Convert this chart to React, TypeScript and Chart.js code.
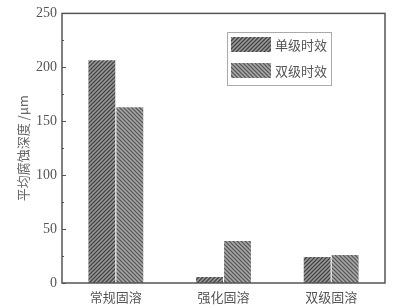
import React, { useEffect, useRef } from "react";
import { Chart, registerables } from "chart.js";

Chart.register(...registerables);

const categories = ["常规固溶", "强化固溶", "双级固溶"];
const seriesNames = ["单级时效", "双级时效"];
const singleAging = [206.5, 5.5, 24];
const doubleAging = [163, 39, 26];
const yTicks = [0, 50, 100, 150, 200, 250];
const yTitle = "平均腐蚀深度 /μm";

function makePattern(dir: number, bg: string, fg: string): CanvasPattern | string {
  const s = 4;
  const c = document.createElement("canvas");
  c.width = s;
  c.height = s;
  const ctx = c.getContext("2d");
  if (!ctx) return bg;
  ctx.fillStyle = bg;
  ctx.fillRect(0, 0, s, s);
  ctx.strokeStyle = fg;
  ctx.lineWidth = 1.3;
  ctx.beginPath();
  if (dir > 0) {
    ctx.moveTo(-1, s + 1);
    ctx.lineTo(s + 1, -1);
    ctx.moveTo(-1, 1);
    ctx.lineTo(1, -1);
    ctx.moveTo(s - 1, s + 1);
    ctx.lineTo(s + 1, s - 1);
  } else {
    ctx.moveTo(-1, -1);
    ctx.lineTo(s + 1, s + 1);
    ctx.moveTo(s - 1, -1);
    ctx.lineTo(s + 1, 1);
    ctx.moveTo(-1, s - 1);
    ctx.lineTo(1, s + 1);
  }
  ctx.stroke();
  const p = ctx.createPattern(c, "repeat");
  return p || bg;
}

export default function App() {
  const ref = useRef<HTMLCanvasElement | null>(null);

  useEffect(() => {
    const canvas = ref.current;
    if (!canvas) return;
    const pSingle = makePattern(1, "#9a9a9a", "#454545");
    const pDouble = makePattern(-1, "#ababab", "#5a5a5a");
    const fills = [pSingle, pDouble];

    const framePlugin = {
      id: "frameAndLegend",
      afterDatasetsDraw(chart: any) {
        const { ctx, chartArea } = chart;
        const { left, top, right, bottom } = chartArea;
        const y = chart.scales.y;
        ctx.save();
        ctx.strokeStyle = "#555";
        ctx.lineWidth = 1.5;
        ctx.strokeRect(left, top, right - left, bottom - top);
        ctx.lineWidth = 1;
        for (let v = 0; v <= 250; v += 25) {
          const py = Math.round(y.getPixelForValue(v)) + 0.5;
          const len = v % 50 === 0 ? 4 : 2;
          ctx.beginPath();
          ctx.moveTo(left, py);
          ctx.lineTo(left + len, py);
          ctx.stroke();
        }
        // legend
        const bx = 227, by = 32, bw = 104, bh = 53;
        ctx.strokeStyle = "#aaa";
        ctx.lineWidth = 1;
        ctx.strokeRect(bx + 0.5, by + 0.5, bw, bh);
        ctx.font = "13px 'Noto Sans CJK SC'";
        ctx.fillStyle = "#555";
        ctx.textBaseline = "middle";
        ctx.textAlign = "left";
        const rows = [37, 63];
        rows.forEach((ry, i) => {
          ctx.fillStyle = fills[i] as any;
          ctx.fillRect(bx + 4, ry, 40, 15);
          ctx.fillStyle = "#555";
          ctx.fillText(seriesNames[i], bx + 48, ry + 8);
        });
        ctx.restore();
      },
    };

    const chart = new Chart(canvas, {
      type: "bar",
      data: {
        labels: categories,
        datasets: [
          {
            label: seriesNames[0],
            data: singleAging,
            backgroundColor: pSingle as any,
            borderWidth: 0,
            categoryPercentage: 0.52,
            barPercentage: 0.96,
          },
          {
            label: seriesNames[1],
            data: doubleAging,
            backgroundColor: pDouble as any,
            borderWidth: 0,
            categoryPercentage: 0.52,
            barPercentage: 0.96,
          },
        ],
      },
      options: {
        responsive: false,
        animation: false,
        layout: { padding: { top: 13, right: 19, left: 0, bottom: 0 } },
        plugins: {
          legend: { display: false },
          tooltip: { enabled: false },
        },
        scales: {
          x: {
            grid: { display: false, drawTicks: false },
            border: { display: false },
            ticks: {
              color: "#555",
              font: { family: "'Noto Sans CJK SC'", size: 13 },
              padding: 6,
            },
            afterFit(scale: any) {
              scale.height = 25;
            },
          },
          y: {
            min: 0,
            max: 250,
            grid: { display: false, drawTicks: false },
            border: { display: false },
            afterBuildTicks(scale: any) {
              scale.ticks = yTicks.map((v) => ({ value: v }));
            },
            ticks: {
              color: "#555",
              font: { family: "'Liberation Serif'", size: 14 },
              padding: 5,
            },
            title: {
              display: true,
              text: yTitle,
              color: "#666",
              font: { family: "'Noto Sans CJK SC'", size: 13 },
              padding: { top: 15, bottom: 0 },
            },
            afterFit(scale: any) {
              scale.width = 62;
            },
          },
        },
      },
      plugins: [framePlugin],
    });
    return () => chart.destroy();
  }, []);

  return (
    <div style={{ position: "fixed", left: 0, top: 0, width: 404, height: 308, background: "#fff" }}>
      <canvas ref={ref} width={404} height={308} style={{ display: "block" }} />
    </div>
  );
}
